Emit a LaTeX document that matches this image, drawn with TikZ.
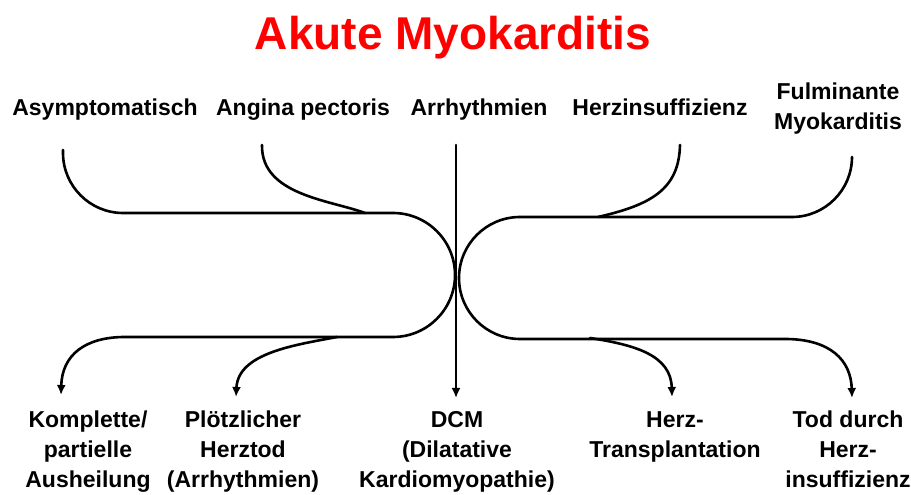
\documentclass[tikz,border=0pt]{standalone}
\usepackage{fontspec}
\setmainfont{Liberation Sans}
\usepackage{xcolor}
\usepackage{tikz}
\usetikzlibrary{arrows.meta, positioning}
\definecolor{titlered}{RGB}{255,0,0}

\tikzset{
    lbl/.style={font=\fontsize{23}{30}\selectfont\bfseries, align=center, inner sep=0pt, anchor=base},
    flow/.style={line width=2.6pt, line cap=round},
    flowarrow/.style={flow, -{Latex[length=10pt,width=9pt]}}
}

\begin{document}
\begin{tikzpicture}[x=1pt, y=1pt]
    \useasboundingbox (0,0) rectangle (911,495);

    % title
    \node[anchor=base, inner sep=0pt, text=titlered, font=\fontsize{46}{50}\selectfont\bfseries] (title) at (453,445) {Akute Myokarditis};

    % presentation (base = last line)
    \node[lbl] (asym) at (105,379) {Asymptomatisch};
    \node[lbl] (angina) at (303,379) {Angina pectoris};
    \node[lbl] (arrh) at (479,379) {Arrhythmien};
    \node[lbl] (herzins) at (660,379) {Herzinsuffizienz};
    \node[lbl] (fulmin) at (838,365) {Fulminante\\Myokarditis};

    % outcome
    \node[lbl] (komplett) at (88,7) {Komplette/\\partielle\\Ausheilung};
    \node[lbl] (ploetz) at (243,7) {Plötzlicher\\Herztod\\(Arrhythmien)};
    \node[lbl] (dcm) at (457,7) {DCM\\(Dilatative\\Kardiomyopathie)};
    \node[lbl] (htx) at (675,37) {Herz-\\Transplantation};
    \node[lbl] (tod) at (848,7) {Tod durch\\Herz-\\insuffizienz};

    % connector ends
    \coordinate (asymIn) at (63,345);
    \coordinate (anginaIn) at (262,350);
    \coordinate (arrhIn) at (456,350);
    \coordinate (herzinsIn) at (680,350);
    \coordinate (fulminIn) at (852,338);
    \coordinate (komplettOut) at (61,100);
    \coordinate (ploetzOut) at (236,98);
    \coordinate (dcmOut) at (456,97);
    \coordinate (htxOut) at (672,98);
    \coordinate (todOut) at (852,97);

    % left loop
    \draw[flowarrow] (asymIn) -- (63,342) .. controls (63,309) and (90,282) .. (123,282)
        -- (393,282) arc[start angle=90, end angle=-90, radius=62]
        -- (125,158) .. controls (85,158) and (62,140) .. (komplettOut);
    \draw[flow] (anginaIn) .. controls (261,300) and (330,295) .. (365,282);
    \draw[flowarrow] (337,158) .. controls (295,150) and (238,142) .. (ploetzOut);

    % middle
    \draw[flowarrow] (arrhIn) -- (dcmOut);

    % right loop
    \draw[flowarrow] (fulminIn) .. controls (852,305) and (825,278) .. (792,278)
        -- (520,278) arc[start angle=90, end angle=270, radius=61]
        -- (785,156) .. controls (830,156) and (851,135) .. (todOut);
    \draw[flow] (herzinsIn) .. controls (679,305) and (650,290) .. (598,278);
    \draw[flowarrow] (590,157) .. controls (635,150) and (671,140) .. (htxOut);
\end{tikzpicture}
\end{document}
